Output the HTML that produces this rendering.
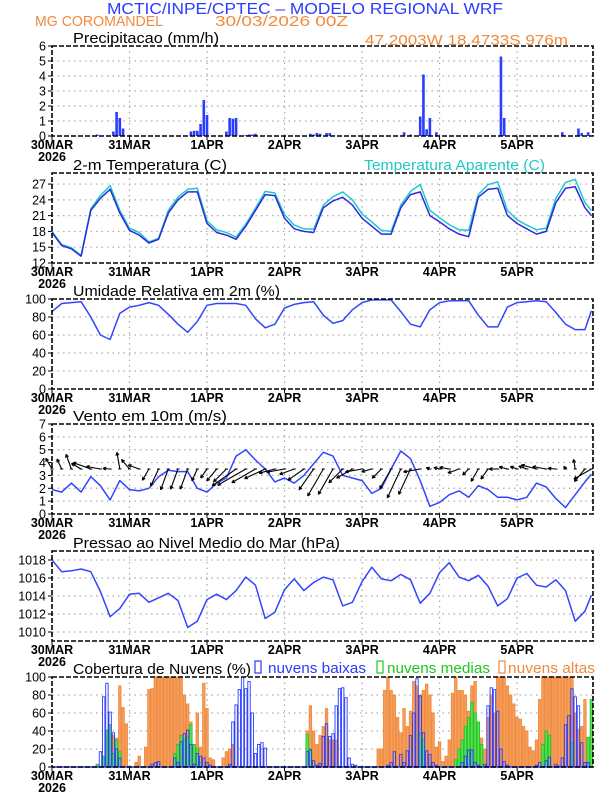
<!DOCTYPE html>
<html><head><meta charset="utf-8">
<style>
html,body{margin:0;padding:0;background:#fff;}
svg{display:block;font-family:"Liberation Sans",sans-serif;}
.tick{font-family:"Liberation Sans Narrow","Liberation Sans",sans-serif;}
</style></head>
<body>
<svg id="chart" width="612" height="792" viewBox="0 0 612 792" xmlns="http://www.w3.org/2000/svg">
<text x="107" y="14" font-size="16" fill="#2b3bff" textLength="396" lengthAdjust="spacingAndGlyphs">MCTIC/INPE/CPTEC – MODELO REGIONAL WRF</text>
<text x="35" y="26" font-size="15" fill="#f08a3c" textLength="128" lengthAdjust="spacingAndGlyphs">MG COROMANDEL</text>
<text x="215" y="26" font-size="15" fill="#f08a3c" textLength="133" lengthAdjust="spacingAndGlyphs">30/03/2026 00Z</text>
<text x="365" y="45" font-size="15" fill="#f08a3c" textLength="203" lengthAdjust="spacingAndGlyphs">47.2003W 18.4733S 976m</text>
</svg>
<script>
// ---- data (hourly index = hours since 30MAR 00Z) ----
const dayLabels = ["30MAR","31MAR","1APR","2APR","3APR","4APR","5APR"];
const precipHours = [14,19,20,21,22,43,44,45,46,47,48,54,55,56,57,60,61,62,63,80,81,82,83,85,86,109,111,114,115,116,117,119,139,140,158,163,164,166];
const precipVals  = [0.1,0.3,1.6,1.2,0.5,0.3,0.35,0.35,0.8,2.4,1.4,0.3,1.2,1.15,1.2,0.05,0.1,0.1,0.15,0.15,0.1,0.2,0.15,0.2,0.2,0.25,0.1,1.3,4.1,0.45,1.2,0.25,5.3,1.2,0.25,0.5,0.2,0.25];
const seriesHours = [0,3,6,9,12,15,18,21,24,27,30,33,36,39,42,45,48,51,54,57,60,63,66,69,72,75,78,81,84,87,90,93,96,99,102,105,108,111,114,117,120,123,126,129,132,135,138,141,144,147,150,153,156,159,162,165,167];
const tempVals = [17.8,15.3,14.7,13.3,22,24.3,26,21.5,18.2,17.3,15.8,16.5,21.5,24,25.5,25.5,19.5,17.8,17.3,16.5,19,22,25,24.8,20.5,18.5,18,17.8,22.5,23.8,24.5,23,20.5,19,17.5,17.5,22.5,25,25.5,21,19.8,18.5,17.5,17,24.5,26,26.2,21,19.5,18.5,17.5,18,23.5,26.2,26.5,22.5,21];
const tempAppVals = [18,15.5,14.9,13.4,22.3,24.8,26.7,22,18.6,17.8,16,16.7,22,24.5,26,26.2,20,18.3,17.8,16.9,19.4,22.4,25.6,25.3,21.2,19.2,18.5,18.4,23,24.6,25.5,24,21.3,19.8,18.2,18,23,25.6,26.9,22,20.6,19.3,18.3,18.2,25,26.9,27.4,22,20.2,19.2,18.3,18.6,24.3,27.3,27.9,23.5,22];
const humVals = [86,95,96,97,80,60,55,84,91,93,96,93,83,72,63,75,93,95,95,95,93,78,68,72,90,94,96,97,82,73,76,88,96,99,99,99,86,72,69,88,96,98,98,98,82,69,69,91,96,97,98,97,85,72,66,66,87];
const windVals = [1.9,1.7,2.4,1.7,2.9,2.2,1.1,2.6,1.9,1.8,2.0,2.9,3.4,3.3,3.3,2.0,1.7,2.4,2.8,4.5,5.0,4.2,3.5,2.5,2.8,2.4,3.0,3.9,4.8,4.5,3.0,2.8,2.6,1.6,2.0,3.5,4.9,4.3,2.6,0.6,0.9,1.5,1.8,1.3,2.2,1.9,1.3,1.3,1.1,1.3,2.4,2.1,1.2,0.5,1.5,2.5,3.1];
const windDirDeg = [120,115,110,150,160,170,175,100,130,160,240,245,250,250,250,245,235,230,225,215,210,210,205,195,190,200,215,235,240,240,225,210,190,195,225,240,245,245,190,160,165,170,200,225,240,235,180,165,160,160,165,170,175,120,100,230,210];
const pressVals = [1018,1016.7,1016.8,1017,1016.7,1014.5,1011.7,1012.6,1014.2,1014.3,1013.3,1013.8,1014.3,1013.5,1010.5,1011.2,1013.6,1014.2,1013.6,1014.6,1016.1,1015.2,1011.5,1012.2,1014.7,1015.9,1014.6,1015.5,1016.1,1015.8,1012.9,1013.3,1015.6,1017.2,1015.9,1015.7,1016.4,1015.8,1013.2,1014.3,1016.6,1017.7,1016.1,1015.7,1016.3,1015.1,1012.9,1013.7,1016,1016.5,1015.2,1015,1015.8,1014.6,1011.2,1012.3,1014.1];
const cloudHighHours = [18,19,20,21,22,23,26,27,29,30,31,32,33,34,35,36,37,38,39,40,41,42,43,45,46,47,48,49,50,53,54,55,56,79,80,81,82,83,84,85,86,87,88,101,102,103,104,105,106,107,108,109,110,111,112,113,114,115,116,117,118,119,120,121,122,123,124,125,126,127,128,129,130,131,132,133,134,135,136,137,138,139,140,141,142,143,144,145,146,147,148,149,150,151,152,153,154,155,156,157,158,159,160,161,162,163,164,165,166];
const cloudHighVals  = [30,35,32,90,66,48,5,12,22,86,87,100,100,100,100,100,100,100,100,100,80,70,50,60,22,93,65,10,8,10,17,20,25,40,68,40,25,35,45,65,30,30,30,20,20,85,100,85,80,55,38,65,45,62,95,90,80,85,92,80,60,22,28,6,12,30,82,100,85,85,80,62,90,95,36,32,20,55,80,60,100,100,100,90,80,70,55,53,45,40,22,18,30,75,100,100,100,100,100,100,100,100,100,100,60,42,45,75,3];
const cloudMidHours = [14,16,17,18,19,20,21,38,39,40,41,42,43,44,45,46,79,80,114,115,125,126,127,128,129,130,131,132,133,152,153,154,161,166,167];
const cloudMidVals  = [3,12,41,47,15,30,17,15,25,35,30,33,47,25,20,5,36,20,37,30,8,20,30,45,55,72,60,50,25,25,40,35,27,33,75];
const cloudLowHours = [15,16,17,18,19,20,21,31,32,33,38,39,40,41,42,43,44,45,46,47,48,49,55,56,57,58,59,60,61,62,63,64,65,66,79,80,81,82,83,84,85,86,87,88,89,90,91,92,93,94,104,105,106,108,109,110,111,112,113,114,115,116,117,118,119,127,128,129,130,131,132,134,135,136,137,138,139,140,141,150,151,153,154,156,157,158,159,160,161,162,163,164,165,166];
const cloudLowVals  = [17,78,93,61,38,20,10,3,5,6,10,5,28,37,41,25,3,15,12,10,5,2,3,50,69,86,100,87,95,60,15,25,27,21,17,19,7,2,4,34,48,34,37,68,87,88,77,10,3,2,2,5,17,14,5,18,35,60,98,79,38,18,14,5,2,5,12,19,19,5,2,3,68,88,86,62,20,6,2,2,5,7,11,3,1,10,47,57,87,78,68,27,5,5,33];

// ---- layout helpers ----
const NS = "http://www.w3.org/2000/svg";
const svg = document.getElementById("chart");
const X0 = 52, PXH = 541/167.5;
function xS(h){ return X0 + h*PXH; }
function mk(tag, attrs, parent){
  const e = document.createElementNS(NS, tag);
  for (const k in attrs) e.setAttribute(k, attrs[k]);
  (parent||svg).appendChild(e);
  return e;
}
function panel(name, top, bottom, vmin, vmax, ticks, title, titleW){
  const g = mk("g", {});
  
  
  const yS = v => bottom - (v - vmin)/(vmax - vmin)*(bottom - top);
  for (let d=1; d<7; d++){
    const gl = mk("line",{x1:xS(d*24),x2:xS(d*24),y1:top,y2:bottom,stroke:"#aaa","stroke-width":1.2,"stroke-dasharray":"1.5,4"},g);
    
    
  }
  ticks.forEach(t=>{
    const y = yS(t);
    if (y > top+1 && y < bottom-1){
      const gl = mk("line",{x1:X0,x2:593,y1:y,y2:y,stroke:"#aaa","stroke-width":1.2,"stroke-dasharray":"1.5,4"},g);
      
      
    }
    const tl = mk("text",{x:46,y:y+4.5,"text-anchor":"end","font-size":12.5,fill:"#000","class":"tick"},g);
    tl.textContent = t;
    
    
    const tk = mk("line",{x1:X0-4,x2:X0,y1:y,y2:y,stroke:"#000","stroke-width":1},g);
    
    
  });
  dayLabels.forEach((lab,d)=>{
    const tl = mk("text",{x:xS(d*24),y:bottom+13,"text-anchor":"middle","font-size":12.5,"font-weight":"bold",fill:"#000","class":"tick"},g);
    tl.textContent = lab;
    
    
    const tk = mk("line",{x1:xS(d*24),x2:xS(d*24),y1:bottom,y2:bottom+4,stroke:"#000","stroke-width":1},g);
    
    
  });
  const yr = mk("text",{x:xS(0),y:bottom+25,"text-anchor":"middle","font-size":12.5,"font-weight":"bold",fill:"#000","class":"tick"},g);
  yr.textContent = "2026";
  
  
  const tt = mk("text",{x:73,y:top-3,"font-size":15,fill:"#000",textLength:titleW,lengthAdjust:"spacingAndGlyphs"},g);
  tt.textContent = title;
  
  
  return {g, yS, top, bottom};
}
function frame(p){
  const f = mk("rect",{x:X0,y:p.top,width:593-X0,height:p.bottom-p.top,fill:"none",stroke:"#000","stroke-width":1.6,"stroke-dasharray":"5,2"},p.g);
  
  
}
function line(p, hours, vals, color, name){
  const pts = hours.map((h,i)=> xS(h).toFixed(1)+","+p.yS(vals[i]).toFixed(1)).join(" ");
  const l = mk("polyline",{points:pts,fill:"none",stroke:color,"stroke-width":1.5,"stroke-linejoin":"round"},p.g);
  
  
}

// ---- precipitation ----
const p1 = panel("precip-panel", 46, 136, 0, 6, [0,1,2,3,4,5,6], "Precipitacao (mm/h)", 146);
precipHours.forEach((h,i)=>{
  const y = p1.yS(precipVals[i]);
  const b = mk("rect",{x:xS(h)-1.3,y:y,width:2.6,height:p1.bottom-y,fill:"#2a3cff"},p1.g);
  
  
});
frame(p1);

// ---- temperature ----
const p2 = panel("temperature-panel", 173, 263, 12, 29.1, [12,15,18,21,24,27], "2-m Temperatura (C)", 154);
line(p2, seriesHours, tempAppVals, "#20c8c8", "apparent-temperature-line");
line(p2, seriesHours, tempVals, "#2a2ae0", "temperature-line");
frame(p2);
const lg = mk("text",{x:364,y:170,"font-size":15,fill:"#20c8c8",textLength:181,lengthAdjust:"spacingAndGlyphs"});
lg.textContent = "Temperatura Aparente (C)";



// ---- humidity ----
const p3 = panel("humidity-panel", 299, 389, 0, 100, [0,20,40,60,80,100], "Umidade Relativa em 2m (%)", 207);
line(p3, seriesHours, humVals, "#3344ff", "humidity-line");
frame(p3);

// ---- wind ----
const p4 = panel("wind-panel", 424, 514, 0, 7, [0,1,2,3,4,5,6,7], "Vento em 10m (m/s)", 154);
line(p4, seriesHours, windVals, "#3344ff", "wind-speed-line");
const baseY = p4.yS(3.5);
seriesHours.forEach((h,i)=>{
  const a = windDirDeg[i]*Math.PI/180, L = windVals[i]*6.5;
  const x1 = xS(h), y1 = baseY, x2 = x1 + L*Math.cos(a), y2 = y1 - L*Math.sin(a);
  const ar = mk("g",{},p4.g);
  
  
  mk("line",{x1:x1,y1:y1,x2:x2,y2:y2,stroke:"#000","stroke-width":1.1},ar);
  const hl = 3.5;
  [a+Math.PI-0.45, a+Math.PI+0.45].forEach(b=>{
    mk("line",{x1:x2,y1:y2,x2:x2+hl*Math.cos(b),y2:y2-hl*Math.sin(b),stroke:"#000","stroke-width":1.1},ar);
  });
  mk("line",{x1:x1-1.6,y1:baseY,x2:x1+1.6,y2:baseY,stroke:"#000","stroke-width":1},ar);
});
frame(p4);

// ---- pressure ----
const p5 = panel("pressure-panel", 551, 641, 1009, 1019, [1010,1012,1014,1016,1018], "Pressao ao Nivel Medio do Mar (hPa)", 267);
line(p5, seriesHours, pressVals, "#3344ff", "pressure-line");
frame(p5);

// ---- clouds ----
const p6 = panel("cloud-panel", 677, 767, 0, 100, [0,20,40,60,80,100], "Cobertura de Nuvens (%)", 178);
function bars(hours, vals, fill, stroke, name){
  hours.forEach((h,i)=>{
    const y = p6.yS(vals[i]);
    const b = mk("rect",{x:xS(h)-1.2,y:y,width:2.4,height:p6.bottom-y,fill:fill,stroke:stroke,"stroke-width":0.9},p6.g);
    
    
  });
}
bars(cloudHighHours, cloudHighVals, "#f5a060", "#f08a3c", "high-cloud-bar");
bars(cloudMidHours, cloudMidVals, "#5ee05e", "#1ec81e", "mid-cloud-bar");
bars(cloudLowHours, cloudLowVals, "none", "#2a3cff", "low-cloud-bar");
const base = mk("line",{x1:X0,x2:593,y1:767,y2:767,stroke:"#2a3cff","stroke-width":1.5},p6.g);


frame(p6);
const legItems = [["nuvens baixas","#2a3cff",255,268,98],["nuvens medias","#1ec81e",377,387,103],["nuvens altas","#f08a3c",499,508,87]];
legItems.forEach(it=>{
  const lgG = mk("g",{});
  
  
  mk("rect",{x:it[2],y:661,width:6,height:12,fill:"none",stroke:it[1],"stroke-width":1.2},lgG);
  const t = mk("text",{x:it[3],y:673,"font-size":15,fill:it[1],textLength:it[4],lengthAdjust:"spacingAndGlyphs"},lgG);
  t.textContent = it[0];
});
</script>
</body></html>
